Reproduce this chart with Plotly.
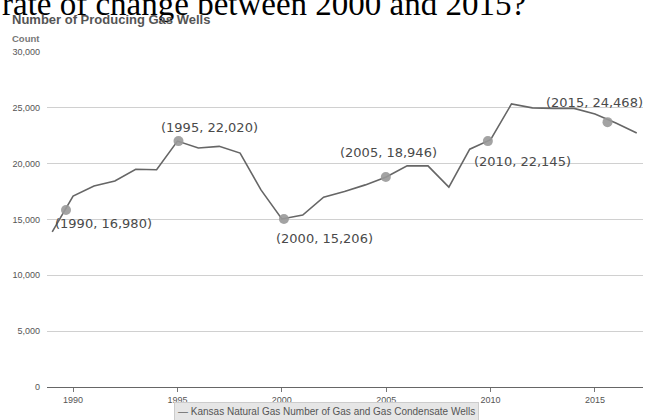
import plotly.graph_objects as go

years = list(range(1989, 2018))
wells = [13900, 17100, 18000, 18450, 19500, 19450, 22020, 21400, 21550, 20950,
         17650, 15050, 15400, 17000, 17500, 18100, 18800, 19800, 19800, 17900,
         21300, 22150, 25350, 25000, 24950, 24950, 24450, 23650, 22750]

highlight_years = [1989.66, 1995.05, 2000.1, 2004.98, 2009.87, 2015.6]
highlight_values = [15850, 22020, 15040, 18800, 22020, 23720]

label_texts = ["(1990, 16,980)", "(1995, 22,020)", "(2000, 15,206)",
               "(2005, 18,946)", "(2010, 22,145)", "(2015, 24,468)"]
label_x = [1991.48, 1996.51, 2002.02, 2005.09, 2011.55, 2014.98]
label_y = [14600, 23280, 13340, 21040, 20150, 25520]

x_ticks = [1990, 1995, 2000, 2005, 2010, 2015]
y_ticks = [0, 5000, 10000, 15000, 20000, 25000, 30000]
y_tick_labels = ["0", "5,000", "10,000", "15,000", "20,000", "25,000", "30,000"]

series_name = "Kansas Natural Gas Number of Gas and Gas Condensate Wells"

# plot-area geometry in pixels (for placing page-level texts)
L, R, T, B = 47, 3, 52, 33
W, H = 646, 420
PW, PH = W - L - R, H - T - B


def px(x):
    return (x - L) / PW


def py(y):
    return (H - B - y) / PH


fig = go.Figure()
fig.add_trace(go.Scatter(x=years, y=wells, mode="lines", name=series_name,
                         line=dict(color="#666666", width=1.6), showlegend=False,
                         hoverinfo="skip"))
fig.add_trace(go.Scatter(x=highlight_years, y=highlight_values, mode="markers",
                         marker=dict(color="#999999", size=10, opacity=0.9),
                         showlegend=False, hoverinfo="skip"))

for t, lx, ly in zip(label_texts, label_x, label_y):
    fig.add_annotation(x=lx, y=ly, xref="x", yref="y", text=t, showarrow=False,
                       font=dict(family="DejaVu Sans", size=13, color="#4a4a4a"))

# cropped question text at the very top
fig.add_annotation(x=px(0), y=py(4), xref="paper", yref="paper",
                   text="rate of change between 2000 and 2015?",
                   showarrow=False, xanchor="left", yanchor="middle",
                   font=dict(family="Liberation Serif", size=33, color="#000000"))

fig.add_annotation(x=px(10), y=py(19.5), xref="paper", yref="paper",
                   text="<b>Number of Producing Gas Wells</b>",
                   showarrow=False, xanchor="left", yanchor="middle",
                   font=dict(family="Liberation Sans", size=13, color="#555555"))
fig.add_annotation(x=px(10), y=py(38), xref="paper", yref="paper", text="<b>Count</b>",
                   showarrow=False, xanchor="left", yanchor="middle",
                   font=dict(family="Liberation Sans", size=9.5, color="#777777"))

fig.add_annotation(x=px(326.5), y=py(402), xref="paper", yref="paper",
                   text="<span style='color:#666'>\u2014</span> " + series_name,
                   showarrow=False, xanchor="center", yanchor="top",
                   bgcolor="#e6e6e6", bordercolor="#cccccc", borderwidth=1, borderpad=3,
                   font=dict(family="Liberation Sans", size=10, color="#555555"))

fig.update_layout(
    width=W, height=H,
    margin=dict(l=L, r=R, t=T, b=B),
    paper_bgcolor="white", plot_bgcolor="white",
    xaxis=dict(range=[1988.75, 2017.3], tickvals=x_ticks, ticks="outside", ticklen=4,
               tickcolor="#777777", showgrid=False, zeroline=False, showline=True,
               linecolor="#666666", linewidth=1,
               tickfont=dict(family="Liberation Sans", size=9, color="#555555")),
    yaxis=dict(range=[0, 30000], tickvals=y_ticks, ticktext=y_tick_labels,
               showgrid=True, gridcolor="#d0d0d0", gridwidth=1, zeroline=False,
               ticklabelstandoff=6,
               tickfont=dict(family="Liberation Sans", size=9, color="#555555")),
)

fig.write_html("out.html")
